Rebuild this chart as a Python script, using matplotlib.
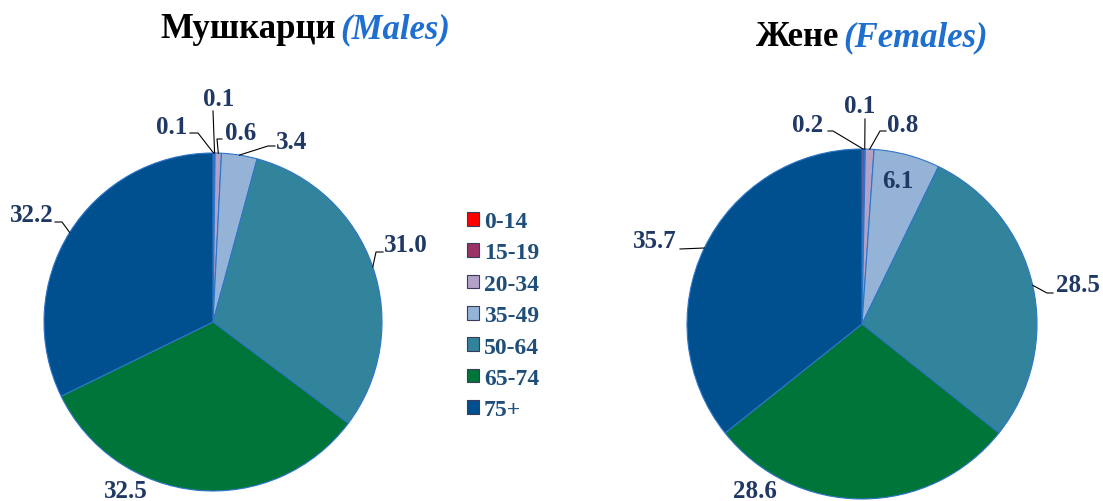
import numpy as np
import matplotlib
matplotlib.use("Agg")
import matplotlib.pyplot as plt

plt.rcParams["font.family"] = ["Liberation Serif", "DejaVu Serif"]

# datos
grupos = ["0-14", "15-19", "20-34", "35-49", "50-64", "65-74", "75+"]
hombres = [0.1, 0.1, 0.6, 3.4, 31.0, 32.5, 32.2]
mujeres = [0.2, 0.1, 0.8, 6.1, 28.5, 28.6, 35.7]
colores = ["#FF0000", "#993366", "#B3A2C7", "#95B3D7", "#31849B", "#00753A", "#00508F"]

W, H = 1103, 502
color_num = "#1F3864"
color_leyenda = "#1F4E79"
color_azul = "#1E6FCF"

# posiciones de etiquetas (px respecto al centro): texto, codo, final de la guia
lay_h = [
    ((-41, 196), (-15, 189), (-23, 189)),
    ((6, 223), (0, 211), (0, 211)),
    ((28, 190), (4, 183), (9, 183)),
    ((79, 181), (55, 176), (62, 176)),
    ((193, 77), (163, 70), (170, 70)),
    ((-87, -169), None, None),
    ((-181, 107), (-151, 100), (-158, 100)),
]
lay_m = [
    ((-54, 199), (-29, 193), (-34, 193)),
    ((-2, 218), (3, 205), (3, 205)),
    ((41, 199), (18, 193), (24, 193)),
    ((36, 143), None, None),
    ((216, 39), (185, 31), (191, 31)),
    ((-107, -167), None, None),
    ((-207, 83), (-182, 75), (-182, 75)),
]


def torta(fig, cx, cy, r, valores, lay):
    ax = fig.add_axes([(cx - r) / W, (H - cy - r) / H, 2 * r / W, 2 * r / H])
    wedges, _ = ax.pie(valores, colors=colores, startangle=90, counterclock=False,
                       wedgeprops=dict(edgecolor="#2E75C8", linewidth=0.8))
    ax.set_xlim(-1, 1)
    ax.set_ylim(-1, 1)
    ax.axis("off")
    for w, v, (txt, codo, fin) in zip(wedges, valores, lay):
        ang = np.deg2rad((w.theta1 + w.theta2) / 2)
        px, py = np.cos(ang), np.sin(ang)
        if codo is not None:
            xs = [px, codo[0] / r, fin[0] / r]
            ys = [py, codo[1] / r, fin[1] / r]
            ax.plot(xs, ys, color="black", lw=0.8, clip_on=False)
        ax.text(txt[0] / r, txt[1] / r, f"{v:.1f}", ha="center", va="center",
                fontsize=18, fontweight="bold", color=color_num)
    return wedges


fig = plt.figure(figsize=(W / 100, H / 100), dpi=100)

cunas = torta(fig, 213, 323, 169, hombres, lay_h)
torta(fig, 862, 325, 175, mujeres, lay_m)

# titulos
fig.text(336 / W, 1 - 30 / H, "Мушкарци", ha="right", va="center",
         fontsize=25, fontweight="bold", color="black")
fig.text(340 / W, 1 - 30 / H, "(Males)", ha="left", va="center",
         fontsize=25, fontweight="bold", fontstyle="italic", color=color_azul)
fig.text(839 / W, 1 - 38 / H, "Жене", ha="right", va="center",
         fontsize=25, fontweight="bold", color="black")
fig.text(843 / W, 1 - 38 / H, "(Females)", ha="left", va="center",
         fontsize=25, fontweight="bold", fontstyle="italic", color=color_azul)

# leyenda
leg = fig.legend(cunas, grupos, loc="upper left", bbox_to_anchor=(467 / W, 1 - 212 / H),
                 frameon=False, prop=dict(size=17, weight="bold"),
                 handlelength=0.52, handleheight=0.52, handletextpad=0.2,
                 labelspacing=0.44, borderpad=0, borderaxespad=0)
for t in leg.get_texts():
    t.set_color(color_leyenda)
for h in leg.legend_handles:
    h.set_edgecolor("#3A3A5A")
    h.set_linewidth(0.8)

plt.savefig("out.png", dpi=100)
plt.close()
